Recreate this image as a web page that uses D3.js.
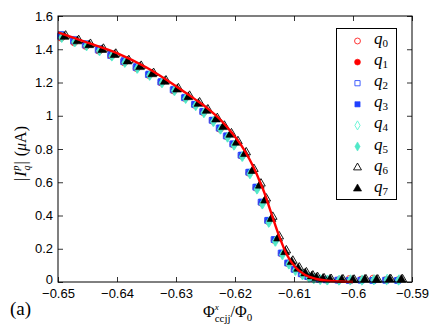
<!DOCTYPE html>
<html><head><meta charset="utf-8">
<script src="https://cdn.jsdelivr.net/npm/d3@7"></script>
<style>
html,body{margin:0;padding:0;background:#fff;}
svg{display:block;}
.serif{font-family:"Liberation Serif","Times New Roman",serif;}
</style></head>
<body>
<svg id="chart" width="443" height="333"></svg>
<script>
// ---------- data ----------
const xTicks = [-0.65, -0.64, -0.63, -0.62, -0.61, -0.6, -0.59];
const yTicks = [0, 0.2, 0.4, 0.6, 0.8, 1, 1.2, 1.4, 1.6];
const qubitNames = ["0","1","2","3","4","5","6","7"];
const flux = [-0.6489,-0.6467,-0.6447,-0.6425,-0.6404,-0.6382,-0.6361,-0.6340,-0.6319,-0.6298,-0.6279,
  -0.6262,-0.6248,-0.6232,-0.6220,-0.6208,-0.6197,-0.6183,-0.6170,-0.6158,-0.6149,-0.6138,-0.6127,-0.6115,
  -0.6104,-0.6093,-0.6081,-0.6070,-0.6062,-0.6051,-0.6039,-0.6019,-0.6000,-0.5980,-0.5960,-0.5938,-0.5918];
const fluxShift = [-0.0006,-0.0005,-0.0007,-0.0006,-0.0004,-0.0005,0.0002,0];
const q0 = [1.468,1.44,1.418,1.39,1.36,1.32,1.285,1.243,1.198,1.15,1.105,1.063,1.02,0.968,0.92,0.875,0.826,0.758,0.655,0.565,0.475,0.365,0.25,0.17,0.112,0.074,0.047,0.03,0.022,0.016,0.013,0.012,0.02,0.016,0.022,0.014,0.012];
const q1 = [1.47,1.442,1.42,1.39,1.36,1.322,1.287,1.245,1.2,1.152,1.107,1.066,1.022,0.97,0.922,0.877,0.828,0.76,0.657,0.567,0.478,0.368,0.252,0.172,0.113,0.075,0.048,0.031,0.022,0.016,0.013,0.011,0.012,0.013,0.012,0.012,0.012];
const q2 = [1.478,1.45,1.425,1.395,1.362,1.325,1.29,1.247,1.202,1.155,1.108,1.068,1.025,0.972,0.925,0.878,0.83,0.762,0.66,0.57,0.48,0.37,0.255,0.174,0.114,0.076,0.049,0.032,0.023,0.017,0.013,0.011,0.01,0.011,0.01,0.011,0.01];
const q3 = [1.49,1.46,1.435,1.405,1.372,1.333,1.297,1.252,1.207,1.16,1.112,1.07,1.027,0.975,0.928,0.88,0.832,0.765,0.662,0.572,0.482,0.372,0.256,0.175,0.115,0.077,0.05,0.032,0.023,0.017,0.013,0.011,0.009,0.01,0.009,0.01,0.009];
const q4 = [1.472,1.445,1.422,1.392,1.361,1.322,1.286,1.244,1.2,1.152,1.105,1.062,1.02,0.966,0.92,0.872,0.824,0.756,0.652,0.56,0.47,0.36,0.245,0.165,0.108,0.07,0.044,0.028,0.02,0.015,0.012,0.012,0.014,0.013,0.015,0.018,0.014];
const q5 = [1.47,1.443,1.42,1.39,1.358,1.32,1.284,1.242,1.197,1.15,1.103,1.06,1.017,0.964,0.918,0.87,0.822,0.754,0.65,0.558,0.468,0.358,0.244,0.164,0.107,0.069,0.043,0.027,0.019,0.014,0.011,0.01,0.011,0.01,0.012,0.011,0.01];
const q6 = [1.482,1.455,1.432,1.403,1.373,1.334,1.30,1.257,1.212,1.165,1.12,1.08,1.038,0.986,0.94,0.894,0.847,0.78,0.68,0.592,0.502,0.392,0.274,0.19,0.128,0.087,0.058,0.039,0.029,0.022,0.018,0.016,0.014,0.016,0.015,0.017,0.016];
const q7 = [1.475,1.448,1.425,1.396,1.366,1.327,1.293,1.250,1.205,1.158,1.112,1.072,1.030,0.978,0.932,0.886,0.838,0.770,0.668,0.580,0.490,0.380,0.262,0.180,0.120,0.080,0.052,0.034,0.025,0.019,0.015,0.013,0.012,0.014,0.013,0.015,0.014];
const qubitValues = [q0,q1,q2,q3,q4,q5,q6,q7];
const fitFlux = [-0.65,-0.645,-0.64,-0.635,-0.63,-0.6268,-0.6245,-0.6223,-0.6206,-0.6189,-0.6175,-0.6166,-0.6158,-0.6149,-0.6141,-0.6132,-0.6124,-0.6113,-0.6098,-0.6081,-0.6062,-0.6039,-0.600];
const fitCurrent = [1.502,1.44,1.377,1.29,1.178,1.1,1.04,0.97,0.9,0.82,0.735,0.67,0.605,0.525,0.44,0.345,0.265,0.17,0.09,0.042,0.018,0.006,0.0];

// ---------- styles ----------
const styles = [
  {sym: d3.symbolCircle,   size: 32, color: "#ff2020", fill: false},
  {sym: d3.symbolCircle,   size: 32, color: "#ff0000", fill: true},
  {sym: d3.symbolSquare,   size: 32, color: "#3050ff", fill: false},
  {sym: d3.symbolSquare,   size: 32, color: "#2040ff", fill: true},
  {sym: d3.symbolDiamond,  size: 28, color: "#60f5d5", fill: false},
  {sym: d3.symbolDiamond,  size: 28, color: "#50e8c8", fill: true},
  {sym: d3.symbolTriangle, size: 32, color: "#000000", fill: false},
  {sym: d3.symbolTriangle, size: 34, color: "#000000", fill: true}
];

const svg = d3.select("#chart");
const L = 58, R = 412, T = 16, B = 282;
const x = d3.scaleLinear().domain([-0.65, -0.59]).range([L, R]);
const y = d3.scaleLinear().domain([0, 1.6]).range([B, T]);

// axes
const fmtX = d3.format("");
const fmtY = d3.format("~g");
const tickFont = g => g.attr("font-family", "'Liberation Sans', Arial, sans-serif").attr("font-size", 13)
  .call(gg => gg.select(".domain").remove());
svg.append("g").attr("transform", `translate(0,${B})`)
  .call(d3.axisBottom(x).tickValues(xTicks).tickFormat(fmtX).tickSizeInner(-5).tickSizeOuter(0).tickPadding(7))
  .call(tickFont);
svg.append("g").attr("transform", `translate(0,${T})`)
  .call(d3.axisTop(x).tickValues(xTicks).tickFormat("").tickSizeInner(-5).tickSizeOuter(0))
  .call(tickFont);
const yAxisG = svg.append("g").attr("transform", `translate(${L},0)`)
  .call(d3.axisLeft(y).tickValues(yTicks).tickFormat(fmtY).tickSizeInner(-5).tickSizeOuter(0).tickPadding(5))
  .call(tickFont);
// nudge the zero label up a little so it clears the x tick labels (as in the reference)
yAxisG.selectAll(".tick").filter(d => d === 0).select("text").attr("y", -3);
svg.append("g").attr("transform", `translate(${R},0)`)
  .call(d3.axisRight(y).tickValues(yTicks).tickFormat("").tickSizeInner(-5).tickSizeOuter(0))
  .call(tickFont);
svg.selectAll(".tick line").attr("stroke", "#000").attr("stroke-width", 0.8);
svg.selectAll(".tick text").attr("fill", "#000");

// data markers
qubitValues.forEach((vals, qi) => {
  const st = styles[qi];
  const n = Math.min(vals.length, flux.length);
  const pts = d3.range(n).map(i => [flux[i] + fluxShift[qi], vals[i]]);
  svg.append("g").selectAll("path").data(pts).join("path")
    .attr("transform", d => `translate(${x(d[0])},${y(d[1])})`)
    .attr("d", d3.symbol().type(st.sym).size(st.size))
    .attr("fill", st.fill ? st.color : "none")
    .attr("stroke", st.color)
    .attr("stroke-width", st.fill ? 0.6 : 0.9);
});

// fit line
const fitPts = fitFlux.map((f, i) => [f, fitCurrent[i]]);
svg.append("path").datum(fitPts)
  .attr("d", d3.line().x(d => x(d[0])).y(d => y(d[1])).curve(d3.curveMonotoneX))
  .attr("fill", "none").attr("stroke", "#ff0000").attr("stroke-width", 2.4);

// frame
svg.append("rect").attr("x", L).attr("y", T).attr("width", R - L).attr("height", B - T)
  .attr("fill", "none").attr("stroke", "#000").attr("stroke-width", 1);

// legend
const lg = svg.append("g");
lg.append("rect").attr("x", 336.5).attr("y", 28.5).attr("width", 60).attr("height", 171)
  .attr("fill", "#fff").attr("stroke", "#000").attr("stroke-width", 1);
qubitNames.forEach((name, qi) => {
  const st = styles[qi];
  const cy = 41 + qi * 21.1;
  lg.append("path").attr("transform", `translate(357.5,${cy})`)
    .attr("d", d3.symbol().type(st.sym).size(st.size * 0.85))
    .attr("fill", st.fill ? st.color : "none")
    .attr("stroke", st.color).attr("stroke-width", st.fill ? 0.6 : 0.9);
  const t = lg.append("text").attr("class", "serif").attr("x", 374).attr("y", cy + 3)
    .attr("font-size", 17);
  t.append("tspan").attr("font-style", "italic").text("q");
  t.append("tspan").attr("font-size", 11).attr("dy", 3).text(name);
});

// y label (rotated, reads bottom to top)
const yl = svg.append("text").attr("class", "serif").attr("transform", "translate(26,181) rotate(-90)")
  .attr("text-anchor", "start").attr("font-size", 16);
yl.append("tspan").text("|");
yl.append("tspan").attr("font-style", "italic").attr("dx", 1).text("I");
yl.append("tspan").attr("font-style", "italic").attr("font-size", 10).attr("dx", 1).attr("dy", -7).text("p");
yl.append("tspan").attr("font-style", "italic").attr("font-size", 10).attr("dx", -5).attr("dy", 11).text("q");
yl.append("tspan").attr("dx", 1).attr("dy", -4).text("|");
yl.append("tspan").attr("dx", 5).text("(");
yl.append("tspan").attr("font-style", "italic").text("μ");
yl.append("tspan").text("A)");

// x label
const xl = svg.append("text").attr("class", "serif").attr("x", 203).attr("y", 317)
  .attr("text-anchor", "start").attr("font-size", 16);
xl.append("tspan").text("Φ");
xl.append("tspan").attr("font-style", "italic").attr("font-size", 9).attr("dy", -7).text("x");
xl.append("tspan").attr("font-size", 11).attr("dx", -4).attr("dy", 12).text("ccjj");
xl.append("tspan").attr("dy", -5).text("/Φ");
xl.append("tspan").attr("font-size", 11).attr("dy", 4).text("0");

// panel label
svg.append("text").attr("class", "serif").attr("x", 10).attr("y", 315)
  .attr("font-size", 19).text("(a)");
</script>
</body></html>
